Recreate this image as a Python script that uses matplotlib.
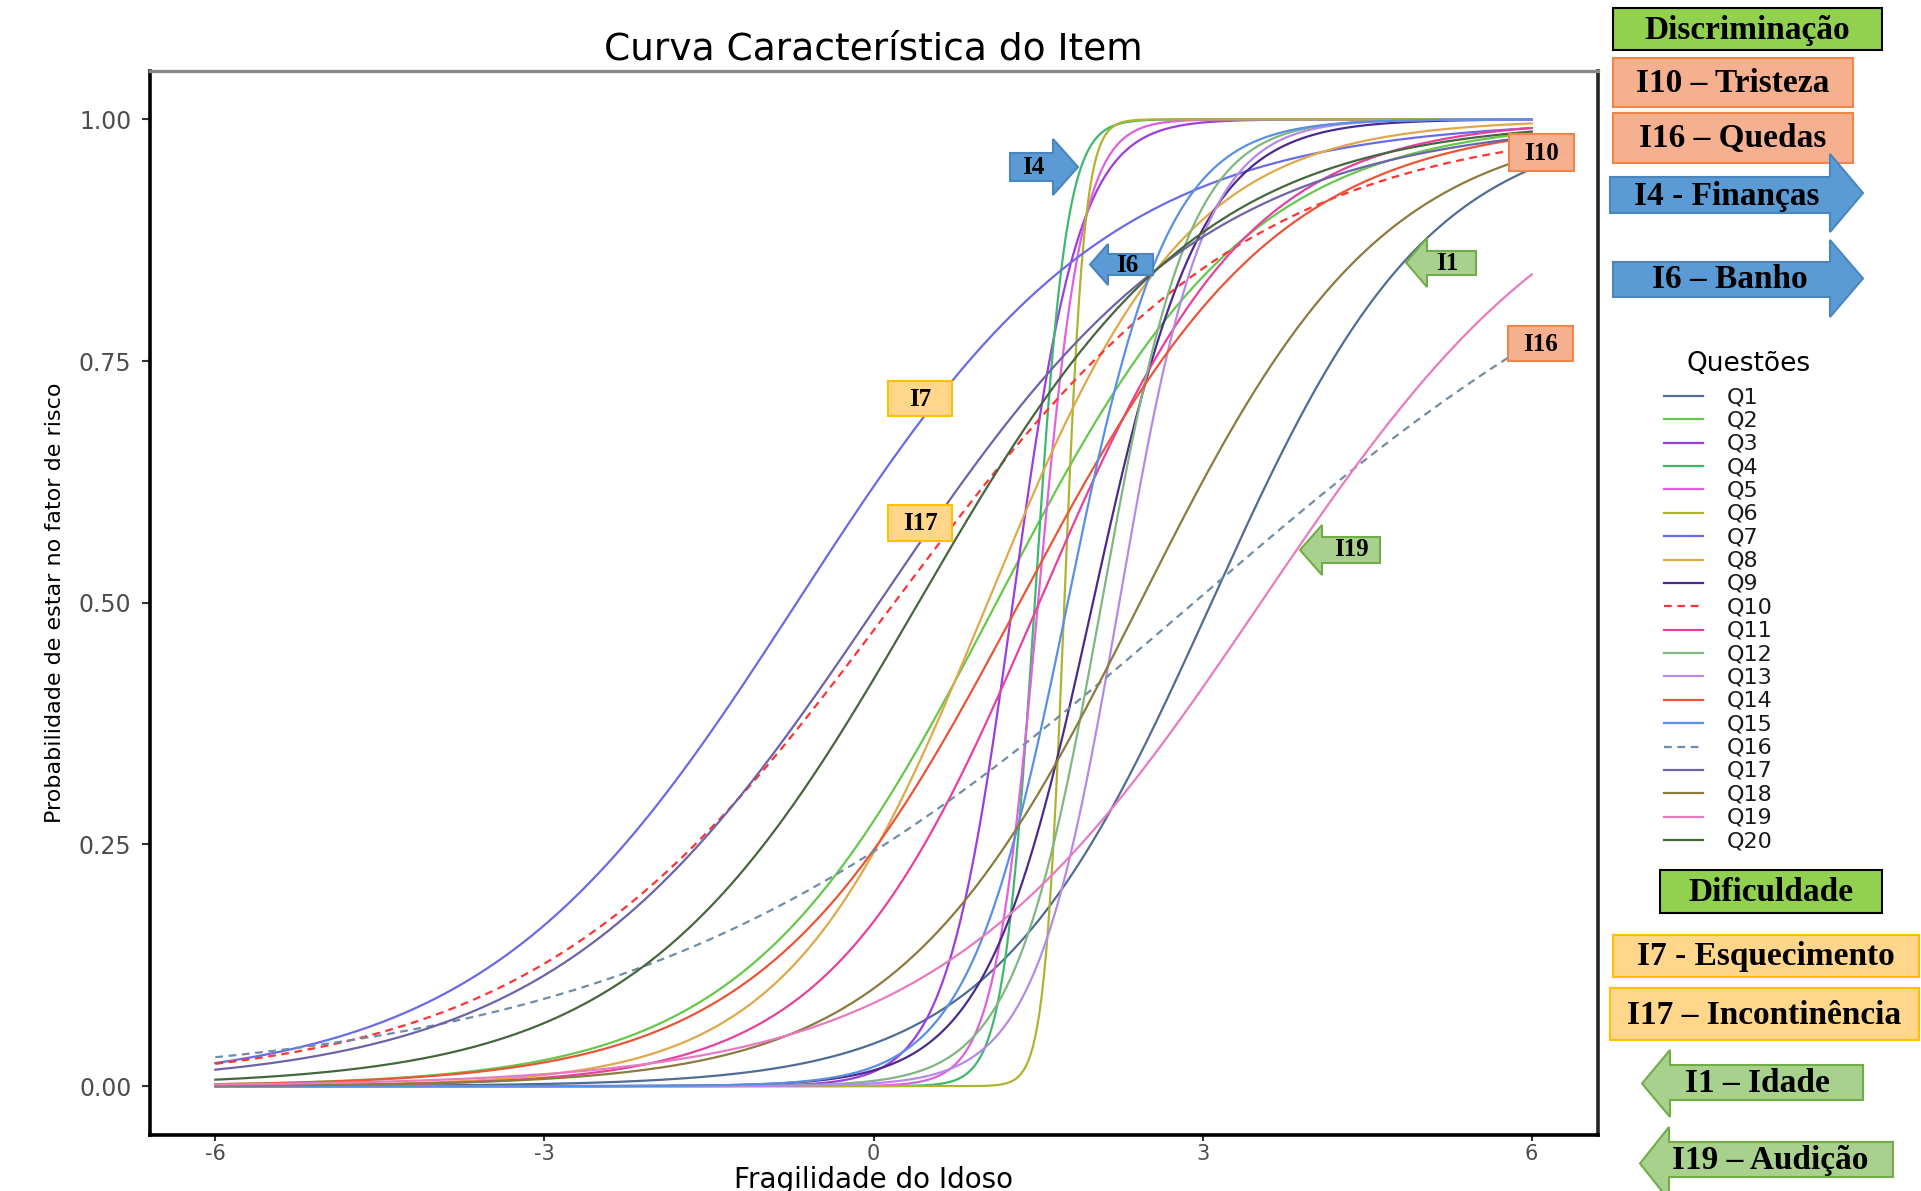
import numpy as np
import matplotlib.pyplot as plt
from matplotlib import font_manager
from matplotlib.patches import Polygon, Rectangle

# item parameters (2PL logistic ICC)
items = [f"Q{i}" for i in range(1, 21)]
discrim = [1.00, 0.87, 3.3, 7.0, 5.0, 11.0, 0.70, 1.10, 2.05, 0.605,
           1.05, 2.5, 2.6, 0.85, 2.2, 0.39, 0.67, 0.90, 0.67, 0.78]
difficulty = [3.08, 1.12, 1.27, 1.47, 1.50, 1.74, -0.70, 1.04, 2.00, 0.19,
              1.51, 2.08, 2.24, 1.33, 1.77, 2.92, 0.05, 2.43, 3.53, 0.41]
colors = ["#4f6d94", "#66c84a", "#9b3de0", "#3db86c", "#e060e0",
          "#b0b232", "#6a6ae8", "#e0a84a", "#4b2a8e", "#ff3333",
          "#e8409e", "#80b680", "#b48ae6", "#ea5538", "#5a8fe6",
          "#6f8ea6", "#6c63a8", "#8c7a3e", "#e87ac0", "#46663c"]
dashed = ["Q10", "Q16"]

x_ticks = [-6, -3, 0, 3, 6]
y_ticks = [0.0, 0.25, 0.5, 0.75, 1.0]

names = {f.name for f in font_manager.fontManager.ttflist}
narrow = "Liberation Sans Narrow" in names

W, H = 1921, 1191
fig = plt.figure(figsize=(W / 100, H / 100), dpi=100)
ax = fig.add_axes([149.5 / W, 1 - 1134.5 / H, 1448 / W, 1063.5 / H])

theta = np.linspace(-6, 6, 600)
for name, a, b, c in zip(items, discrim, difficulty, colors):
    p = 1 / (1 + np.exp(-a * (theta - b)))
    ls = (0, (3.5, 2.5)) if name in dashed else "-"
    ax.plot(theta, p, color=c, lw=1.6, ls=ls)

ax.set_xlim(-6.6, 6.6)
ax.set_ylim(-0.05, 1.05)
ax.set_xticks(x_ticks)
ax.set_xticklabels([str(t) for t in x_ticks])
ax.set_yticks(y_ticks)
ax.set_yticklabels([f"{t:.2f}" for t in y_ticks])
ax.tick_params(axis="y", length=6, width=1.5, pad=7, labelsize=17,
               colors="#333333", labelcolor="#4d4d4d")
ax.tick_params(axis="x", length=4, width=1.5, pad=3, labelsize=15,
               colors="#333333", labelcolor="#4d4d4d")
for side in ["left", "bottom"]:
    ax.spines[side].set_linewidth(2.6)
    ax.spines[side].set_color("black")
ax.spines["top"].set_linewidth(2.4)
ax.spines["top"].set_color("#888888")
ax.spines["right"].set_linewidth(2.6)
ax.spines["right"].set_color("#222222")

ax.set_title("Curva Característica do Item", fontsize=27, pad=8,
             family="DejaVu Sans")
ax.set_xlabel("Fragilidade do Idoso", fontsize=20, labelpad=1)
if narrow:
    ax.set_ylabel("Probabilidade de estar no fator de risco", fontsize=19,
                  family=["Liberation Sans Narrow", "DejaVu Sans"], labelpad=10)
else:
    ax.set_ylabel("Probabilidade de estar no fator de risco", fontsize=16,
                  labelpad=10)

# overlay in pixel coordinates for the annotations
ov = fig.add_axes([0, 0, 1, 1], zorder=10)
ov.set_xlim(0, W)
ov.set_ylim(H, 0)
ov.axis("off")
ov.patch.set_alpha(0)

serif = "Liberation Serif"


def box(x0, x1, y0, y1, fc, ec, text, size, lw=1.5, tx=None):
    ov.add_patch(Rectangle((x0, y0), x1 - x0, y1 - y0, fc=fc, ec=ec, lw=lw,
                           clip_on=False))
    cx = (x0 + x1) / 2 if tx is None else tx
    ov.text(cx, (y0 + y1) / 2 + 1, text, ha="center", va="center",
            fontsize=size, family=serif, weight="bold", color="black")


def arrow(x0, xh, xt, yb0, yb1, yh0, yh1, fc, ec, text, size, tx, ty):
    ym = (yh0 + yh1) / 2
    pts = [(x0, yb0), (xh, yb0), (xh, yh0), (xt, ym), (xh, yh1), (xh, yb1),
           (x0, yb1)]
    ov.add_patch(Polygon(pts, closed=True, fc=fc, ec=ec, lw=1.5,
                         clip_on=False))
    ov.text(tx, ty, text, ha="center", va="center", fontsize=size,
            family=serif, weight="bold", color="black")


salmon, salmon_e = "#f5b08f", "#ee8648"
yellow, yellow_e = "#ffd68a", "#ffc000"
green, green_e = "#a9d18e", "#70ad47"
blue, blue_e = "#5b9bd5", "#4a85bd"
head_green = "#92d050"

# right panel
box(1613, 1882, 8, 50, head_green, "black", "Discriminação", 24)
box(1613, 1853, 58, 107, salmon, salmon_e, "I10 – Tristeza", 24)
box(1613, 1853, 113, 163, salmon, salmon_e, "I16 – Quedas", 24)
arrow(1610, 1830, 1863, 177, 213, 154, 232, blue, blue_e,
      "I4 - Finanças", 24, 1727, 196)
arrow(1613, 1830, 1863, 262, 297, 240, 317, blue, blue_e,
      "I6 – Banho", 24, 1730, 280)
box(1660, 1882, 870, 913, head_green, "black", "Dificuldade", 24)
box(1613, 1919, 935, 977, yellow, yellow_e, "I7 - Esquecimento", 24)
box(1610, 1919, 988, 1040, yellow, yellow_e, "I17 – Incontinência", 24)
arrow(1863, 1670, 1642, 1065, 1100, 1050, 1117, green, green_e,
      "I1 – Idade", 24, 1757, 1084)
arrow(1893, 1669, 1640, 1142, 1177, 1127, 1200, green, green_e,
      "I19 – Audição", 24, 1770, 1161)

# in-plot labels
arrow(1010, 1053, 1078, 153, 181, 139, 195, blue, blue_e, "I4", 18, 1033, 168)
arrow(1153, 1108, 1090, 254, 275, 244, 285, blue, blue_e, "I6", 18, 1127, 265)
box(1509, 1574, 134, 171, salmon, salmon_e, "I10", 18)
arrow(1476, 1427, 1406, 251, 275, 238, 287, green, green_e, "I1", 18, 1447, 263)
box(1508, 1573, 326, 361, salmon, salmon_e, "I16", 18)
box(888, 952, 381, 416, yellow, yellow_e, "I7", 18)
box(888, 952, 505, 541, yellow, yellow_e, "I17", 18)
arrow(1380, 1322, 1300, 537, 563, 525, 575, green, green_e, "I19", 18, 1351, 550)

# legend
ov.text(1749, 364, "Questões", ha="center", va="center", fontsize=19,
        family="DejaVu Sans")
for i, (name, c) in enumerate(zip(items, colors)):
    y = 396 + i * 23.37
    ls = (0, (3.5, 2.5)) if name in dashed else "-"
    ov.plot([1664, 1703], [y, y], color=c, lw=1.6, ls=ls, clip_on=False)
    ov.text(1727, y + 1, name, ha="left", va="center", fontsize=16,
            color="#1a1a1a", family="DejaVu Sans")

fig.savefig("out.png", dpi=100)
